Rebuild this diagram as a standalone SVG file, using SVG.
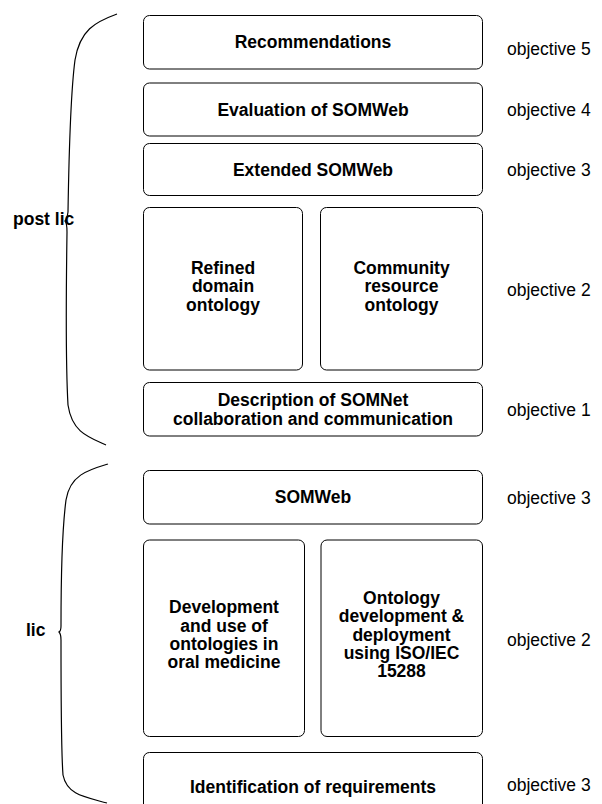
<svg xmlns="http://www.w3.org/2000/svg" width="602" height="804" viewBox="0 0 602 804">
  <style>
    .box { fill: #ffffff; stroke: #000000; stroke-width: 1; }
    .brace { fill: none; stroke: #000000; stroke-width: 1.2; }
    .lbl { font-family: "Liberation Sans", Arial, Helvetica, sans-serif; font-size: 17.5px; font-weight: bold; fill: #000000; text-anchor: middle; }
    .side { font-family: "Liberation Sans", Arial, Helvetica, sans-serif; font-size: 17.5px; font-weight: bold; fill: #000000; }
    .obj { font-family: "Liberation Sans", Arial, Helvetica, sans-serif; font-size: 17.5px; fill: #000000; }
  </style>
  <rect width="602" height="804" fill="#ffffff"/>

  <!-- curly brackets grouping the two phases -->
  <g id="connectors">
    <path class="brace" d="M 117 14 C 95 22, 80 30, 75 60 C 71 90, 69 150, 68 212 Q 67 219, 65 221 Q 67 223, 67 232 C 66 300, 66 370, 68 405 C 72 432, 88 437, 106 445"/>
    <path class="brace" d="M 108 464 C 88 470, 70 475, 66 500 C 62 530, 61 580, 61 626 Q 61 631, 59 632 Q 61 634, 61 640 C 61 700, 61 750, 63 775 C 67 795, 85 797, 107 803"/>
  </g>

  <g id="label-post-lic"><text class="side" x="13" y="224.5">post lic</text></g>
  <g id="label-lic"><text class="side" x="26" y="636">lic</text></g>

  <!-- post lic phase -->
  <g id="recommendations">
    <rect class="box" x="143.5" y="15.5" width="339" height="53.5" rx="6"/>
    <text class="lbl" x="313" y="48.3">Recommendations</text>
  </g>
  <g id="evaluation">
    <rect class="box" x="143.5" y="83" width="339" height="53" rx="6"/>
    <text class="lbl" x="313" y="115.7">Evaluation of SOMWeb</text>
  </g>
  <g id="extended-somweb">
    <rect class="box" x="143.5" y="143.5" width="339" height="52" rx="6"/>
    <text class="lbl" x="313" y="175.7">Extended SOMWeb</text>
  </g>
  <g id="refined-ontology">
    <rect class="box" x="143.5" y="207.5" width="159" height="162.5" rx="6"/>
    <text class="lbl" x="223" y="274">Refined</text>
    <text class="lbl" x="223" y="292.3">domain</text>
    <text class="lbl" x="223" y="310.6">ontology</text>
  </g>
  <g id="community-ontology">
    <rect class="box" x="320.5" y="207.5" width="162" height="162.5" rx="6"/>
    <text class="lbl" x="401.5" y="274">Community</text>
    <text class="lbl" x="401.5" y="292.3">resource</text>
    <text class="lbl" x="401.5" y="310.6">ontology</text>
  </g>
  <g id="somnet-description">
    <rect class="box" x="143.5" y="382.5" width="339" height="53.5" rx="6"/>
    <text class="lbl" x="313" y="406.3">Description of SOMNet</text>
    <text class="lbl" x="313" y="424.6">collaboration and communication</text>
  </g>

  <!-- lic phase -->
  <g id="somweb">
    <rect class="box" x="143.5" y="470.5" width="339" height="53.5" rx="6"/>
    <text class="lbl" x="313" y="503.3">SOMWeb</text>
  </g>
  <g id="oral-medicine">
    <rect class="box" x="143.5" y="540" width="161" height="196.5" rx="6"/>
    <text class="lbl" x="224" y="613.3">Development</text>
    <text class="lbl" x="224" y="631.6">and use of</text>
    <text class="lbl" x="224" y="649.9">ontologies in</text>
    <text class="lbl" x="224" y="668.2">oral medicine</text>
  </g>
  <g id="iso-15288">
    <rect class="box" x="321" y="540" width="161.5" height="196.5" rx="6"/>
    <text class="lbl" x="401.5" y="604">Ontology</text>
    <text class="lbl" x="401.5" y="622.3">development &amp;</text>
    <text class="lbl" x="401.5" y="640.6">deployment</text>
    <text class="lbl" x="401.5" y="658.9">using ISO/IEC</text>
    <text class="lbl" x="401.5" y="677.2">15288</text>
  </g>
  <g id="requirements">
    <rect class="box" x="143.5" y="752.5" width="339" height="75" rx="6"/>
    <text class="lbl" x="313" y="793">Identification of requirements</text>
  </g>

  <!-- objective labels -->
  <g id="objectives">
    <text class="obj" x="507" y="55">objective 5</text>
    <text class="obj" x="507" y="115.5">objective 4</text>
    <text class="obj" x="507" y="175.5">objective 3</text>
    <text class="obj" x="507" y="295.5">objective 2</text>
    <text class="obj" x="507" y="415.5">objective 1</text>
    <text class="obj" x="507" y="503.5">objective 3</text>
    <text class="obj" x="507" y="645.5">objective 2</text>
    <text class="obj" x="507" y="791">objective 3</text>
  </g>
</svg>
